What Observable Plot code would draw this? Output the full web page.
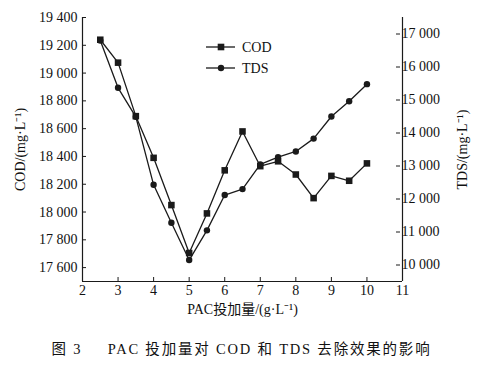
<!DOCTYPE html>
<html><head><meta charset="utf-8">
<script src="https://cdn.jsdelivr.net/npm/d3@7"></script>
<script src="https://cdn.jsdelivr.net/npm/@observablehq/plot@0.6"></script>
<style>body{margin:0;background:#fff} svg{display:block}</style>
</head><body><div id="c"></div>
<script>
const dose = [2.5, 3, 3.5, 4, 4.5, 5, 5.5, 6, 6.5, 7, 7.5, 8, 8.5, 9, 9.5, 10];
const cod  = [19240, 19075, 18690, 18390, 18050, 17705, 17990, 18300, 18580, 18330, 18365, 18270, 18100, 18260, 18225, 18350];
const tds  = [16800, 15370, 14490, 12430, 11280, 10150, 11050, 12120, 12300, 13050, 13270, 13440, 13830, 14500, 14960, 15480];
const xTicks = [2, 3, 4, 5, 6, 7, 8, 9, 10, 11];
const codTicks = [17600, 17800, 18000, 18200, 18400, 18600, 18800, 19000, 19200, 19400];
const tdsTicks = [10000, 11000, 12000, 13000, 14000, 15000, 16000, 17000];
const codDomain = [17500, 19400];
const tdsDomain = [9500, 17500];
const seriesNames = ["COD", "TDS"];
const xLabel = "PAC投加量/(g·L⁻¹)";
const yLabel = "COD/(mg·L⁻¹)";
const y2Label = "TDS/(mg·L⁻¹)";
const caption = "图 3\u2003\u2002PAC 投加量对 COD 和 TDS 去除效果的影响";

const toCod = t => codDomain[0] + (t - tdsDomain[0]) * (codDomain[1] - codDomain[0]) / (tdsDomain[1] - tdsDomain[0]);
const fromCod = c => Math.round(tdsDomain[0] + (c - codDomain[0]) * (tdsDomain[1] - tdsDomain[0]) / (codDomain[1] - codDomain[0]));
const fmt = v => d3.format(",")(v).replace(/,/g, " ");

const codData = dose.map((d, i) => ({x: d, y: cod[i]}));
const tdsData = dose.map((d, i) => ({x: d, y: toCod(tds[i])}));
const ink = "#1a1a1a";
const serif = "'Liberation Serif', 'Noto Sans CJK SC', serif";

const chart = Plot.plot({
  width: 494, height: 373,
  marginLeft: 82, marginRight: 92, marginTop: 17, marginBottom: 92,
  style: {fontFamily: serif, fontSize: "14px", color: "#111", background: "#fff"},
  x: {domain: [2, 11]},
  y: {domain: codDomain},
  marks: [
    Plot.ruleX([2], {stroke: ink, strokeWidth: 1.2}),
    Plot.ruleX([11], {stroke: ink, strokeWidth: 1.2}),
    Plot.ruleY([codDomain[0]], {stroke: ink, strokeWidth: 1.2}),
    Plot.axisX(xTicks, {tickSize: -4, tickPadding: 8, stroke: ink, fontSize: 14, label: null}),
    Plot.axisY(codTicks, {anchor: "left", tickSize: -4, tickPadding: 9, tickFormat: fmt, stroke: ink, fontSize: 14, label: null}),
    Plot.axisY(tdsTicks.map(toCod), {anchor: "right", tickSize: -4, tickPadding: 6, dx: -3, tickFormat: d => fmt(fromCod(d)), stroke: ink, fontSize: 14, label: null}),
    Plot.text([xLabel], {frameAnchor: "bottom", dy: 32, fontSize: 14, fill: "#111"}),
    Plot.text([yLabel], {frameAnchor: "left", dx: -62, rotate: -90, textAnchor: "middle", fontSize: 14, fill: "#111"}),
    Plot.text([y2Label], {frameAnchor: "right", dx: 60, rotate: -90, textAnchor: "middle", fontSize: 14, fill: "#111"}),
    Plot.text([caption], {frameAnchor: "bottom", dy: 72, dx: -1, fontSize: 14.5, fill: "#111", fontFamily: serif}),
    Plot.line(codData, {x: "x", y: "y", stroke: ink, strokeWidth: 1.3}),
    Plot.line(tdsData, {x: "x", y: "y", stroke: ink, strokeWidth: 1.3}),
    Plot.dot(codData, {x: "x", y: "y", symbol: "square", r: 3.7, fill: ink, stroke: "none"}),
    Plot.dot(tdsData, {x: "x", y: "y", symbol: "circle", r: 3.2, fill: ink, stroke: "none"})
  ]
});
document.getElementById("c").appendChild(chart);

const svg = d3.select(chart);
// caption letter spacing (Chinese figure caption style)
svg.selectAll("text").filter(function() { return this.textContent === caption; })
  .style("letter-spacing", "1.8px");

// legend
const lg = svg.append("g").attr("font-family", serif).attr("font-size", 14).attr("text-anchor", "start");
seriesNames.forEach((name, i) => {
  const yy = 47 + i * 21;
  lg.append("line").attr("x1", 206).attr("x2", 235).attr("y1", yy).attr("y2", yy).attr("stroke", ink).attr("stroke-width", 1.3);
  if (i === 0) lg.append("rect").attr("x", 221 - 3.3).attr("y", yy - 3.3).attr("width", 6.6).attr("height", 6.6).attr("fill", ink);
  else lg.append("circle").attr("cx", 221).attr("cy", yy).attr("r", 3.2).attr("fill", ink);
  lg.append("text").attr("x", 242).attr("y", yy).attr("dy", "0.35em").attr("text-anchor", "start").attr("fill", "#111").text(name);
});
</script></body></html>
